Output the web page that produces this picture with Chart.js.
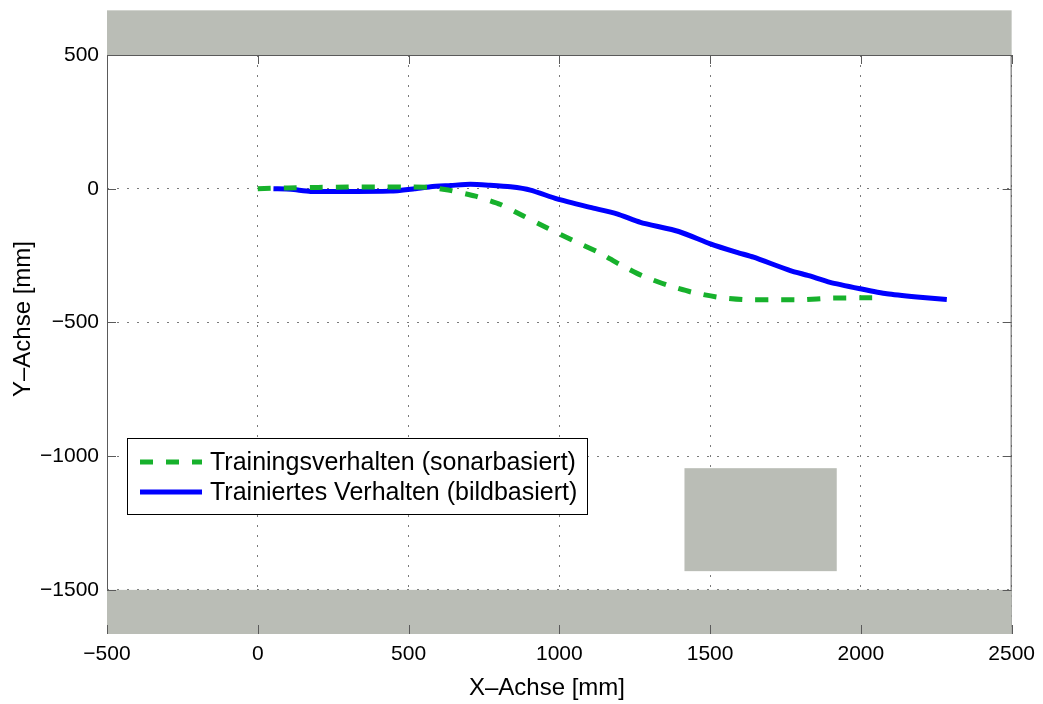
<!DOCTYPE html>
<html lang="de">
<head>
<meta charset="utf-8">
<title>Trajektorie</title>
<script src="https://cdn.jsdelivr.net/npm/chart.js@4/dist/chart.umd.min.js"></script>
<style>
  html, body { margin: 0; padding: 0; background: #fff; }
  canvas { display: block; }
</style>
</head>
<body>
<canvas id="trajChart" width="1043" height="704"></canvas>
<script>
// --- data (mm) ---
const trainingX = [0, 100, 200, 300, 400, 500, 570, 632, 722, 805, 881, 960, 1037, 1136, 1197, 1274, 1357, 1440, 1528, 1617, 1720, 1810, 1898, 2000, 2080];
const trainingY = [0, 3, 5, 6, 6, 6, 5, -5, -28, -59, -102, -147, -189, -241, -281, -325, -360, -387, -406, -415, -415, -415, -409, -408, -408];

const trainedX = [52, 110, 175, 300, 440, 520, 573, 640, 705, 770, 838, 904, 992, 1103, 1191, 1269, 1396, 1501, 1589, 1644, 1766, 1827, 1898, 1998, 2086, 2186, 2285];
const trainedY = [0, -2, -10, -10, -9, 0, 7, 12, 17, 13, 7, -5, -38, -70, -94, -126, -160, -206, -238, -256, -306, -325, -350, -374, -393, -405, -414];

const seriesLabels = ["Trainingsverhalten (sonarbasiert)", "Trainiertes Verhalten (bildbasiert)"];

// Hindernisse / Wände: [x0, x1] und [y0, y1]
const wallRangesX = [[-500, 2500], [-500, 2500], [1415, 1920]];
const wallRangesY = [[500, 667], [-1665, -1500], [-1430, -1045]];

const xTicks = [-500, 0, 500, 1000, 1500, 2000, 2500];
const yTicks = [-1500, -1000, -500, 0, 500];
const xRange = [-500, 2500];
const yRange = [-1665, 500];

const xTitle = "X\u2013Achse [mm]";
const yTitle = "Y\u2013Achse [mm]";

// --- styles ---
const FONT = "'Liberation Sans', Arial, Helvetica, sans-serif";
const GREEN = "#17b12c";
const BLUE = "#0000ff";
const WALL = "#babdb6";
const AXIS = "#5a5a5a";
const GRID = "#7a7a7a";
const TICK_LEN = 9;

function toPoints(xs, ys) {
  return xs.map((x, i) => ({ x: x, y: ys[i] }));
}

function formatTick(value) {
  return String(value).replace("-", "\u2212");
}

/**
 * Gray walls plus axes box and inward tick marks (MATLAB look)
 */
const backdropPlugin = {
  id: "backdrop",
  beforeDatasetsDraw(chart) {
    const { ctx, chartArea: a, scales: { x, y } } = chart;
    ctx.save();

    // axes box
    ctx.strokeStyle = AXIS;
    ctx.lineWidth = 1;
    ctx.strokeRect(a.left + 0.5, a.top + 0.5, a.right - a.left - 1, a.bottom - a.top - 1);

    // walls
    ctx.fillStyle = WALL;
    wallRangesX.forEach((xr, i) => {
      const yr = wallRangesY[i];
      const left = x.getPixelForValue(xr[0]);
      const right = x.getPixelForValue(xr[1]);
      const top = y.getPixelForValue(yr[1]);
      const bottom = y.getPixelForValue(yr[0]);
      ctx.fillRect(left, top, right - left, bottom - top);
    });

    // tick marks, pointing inward on all four sides
    ctx.strokeStyle = AXIS;
    ctx.beginPath();
    xTicks.forEach((v) => {
      const px = Math.round(x.getPixelForValue(v)) + 0.5;
      ctx.moveTo(px, a.bottom);
      ctx.lineTo(px, a.bottom - TICK_LEN);
      ctx.moveTo(px, a.top);
      ctx.lineTo(px, a.top + TICK_LEN);
    });
    yTicks.forEach((v) => {
      const py = Math.round(y.getPixelForValue(v)) + 0.5;
      ctx.moveTo(a.left, py);
      ctx.lineTo(a.left + TICK_LEN, py);
      ctx.moveTo(a.right, py);
      ctx.lineTo(a.right - TICK_LEN, py);
    });
    ctx.stroke();
    ctx.restore();
  },

  afterDraw(chart) {
    const { ctx } = chart;
    ctx.save();
    ctx.fillStyle = "#000";

    // axis titles
    ctx.font = "24px " + FONT;
    ctx.textAlign = "center";
    ctx.textBaseline = "middle";
    ctx.fillText(xTitle, 547, 688);
    ctx.translate(23, 319);
    ctx.rotate(-Math.PI / 2);
    ctx.fillText(yTitle, 0, 0);
    ctx.setTransform(1, 0, 0, 1, 0, 0);

    // legend box
    const box = { left: 127, top: 438, width: 460, height: 76 };
    ctx.fillStyle = "#fff";
    ctx.fillRect(box.left, box.top, box.width, box.height);
    ctx.strokeStyle = "#000";
    ctx.lineWidth = 1;
    ctx.strokeRect(box.left + 0.5, box.top + 0.5, box.width, box.height);

    const rows = [462, 492];
    chart.data.datasets.forEach((ds, i) => {
      ctx.beginPath();
      ctx.strokeStyle = ds.borderColor;
      ctx.lineWidth = ds.borderWidth;
      ctx.setLineDash(ds.borderDash || []);
      ctx.moveTo(140, rows[i]);
      ctx.lineTo(202, rows[i]);
      ctx.stroke();
      ctx.setLineDash([]);

      ctx.fillStyle = "#000";
      ctx.font = "25px " + FONT;
      ctx.textAlign = "left";
      ctx.textBaseline = "middle";
      ctx.fillText(ds.label, 210, rows[i] + 1);
    });
    ctx.restore();
  },
};

const ctx = document.getElementById("trajChart").getContext("2d");

const chart = new Chart(ctx, {
  type: "scatter",
  data: {
    datasets: [
      {
        label: seriesLabels[0],
        data: toPoints(trainingX, trainingY),
        showLine: true,
        borderColor: GREEN,
        borderWidth: 5,
        borderDash: [13, 13],
        borderCapStyle: "butt",
        pointRadius: 0,
        tension: 0.2,
        fill: false,
      },
      {
        label: seriesLabels[1],
        data: toPoints(trainedX, trainedY),
        showLine: true,
        borderColor: BLUE,
        borderWidth: 5,
        pointRadius: 0,
        tension: 0.2,
        fill: false,
      },
    ],
  },
  options: {
    responsive: false,
    animation: false,
    layout: {
      padding: { top: 55, right: 31, left: 0, bottom: 0 },
    },
    plugins: {
      legend: { display: false },
      tooltip: { enabled: false },
    },
    scales: {
      x: {
        type: "linear",
        min: xRange[0],
        max: xRange[1],
        afterBuildTicks: (scale) => {
          scale.ticks = xTicks.map((v) => ({ value: v }));
        },
        afterFit: (scale) => {
          scale.height = 70;
        },
        grid: {
          color: GRID,
          lineWidth: 1,
          drawTicks: false,
        },
        border: { display: false, dash: [2, 8] },
        ticks: {
          padding: 8,
          color: "#000",
          font: { family: FONT, size: 21 },
          maxRotation: 0,
          callback: formatTick,
        },
      },
      y: {
        type: "linear",
        min: yRange[0],
        max: yRange[1],
        afterBuildTicks: (scale) => {
          scale.ticks = yTicks.map((v) => ({ value: v }));
        },
        afterFit: (scale) => {
          scale.width = 107;
        },
        grid: {
          color: GRID,
          lineWidth: 1,
          drawTicks: false,
        },
        border: { display: false, dash: [2, 8] },
        ticks: {
          padding: 8,
          color: "#000",
          font: { family: FONT, size: 21 },
          callback: formatTick,
        },
      },
    },
  },
  plugins: [backdropPlugin],
});
</script>
</body>
</html>
